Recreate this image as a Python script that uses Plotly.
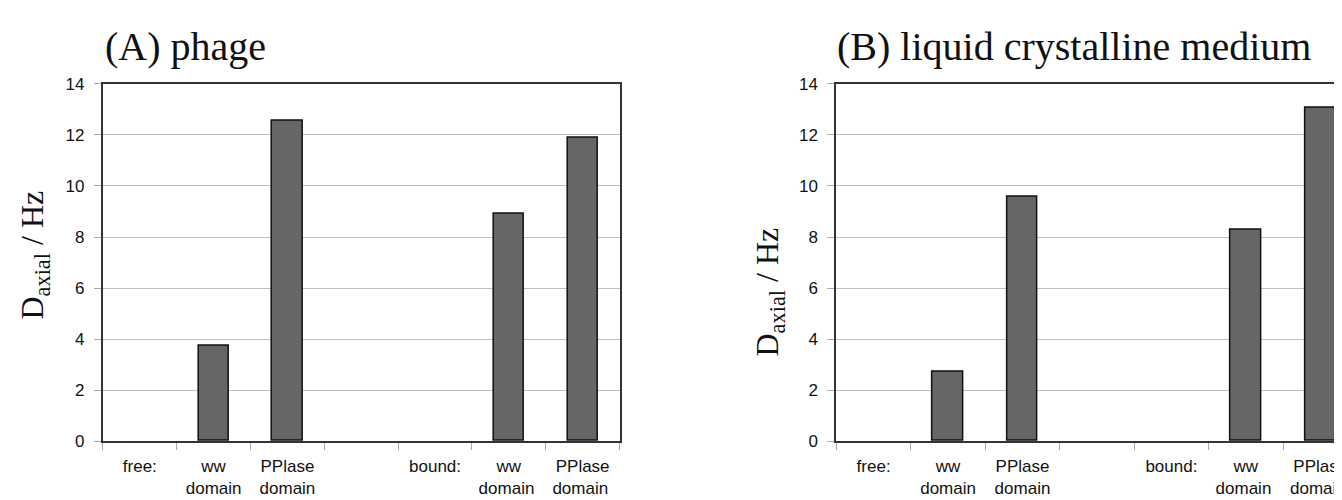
import plotly.graph_objects as go

# ---- data ----
categories = ["free:", "ww<br>domain", "PPlase<br>domain", "  ",
              "bound:", "ww<br>domain ", "PPlase<br>domain "]
phage_values = [None, 3.73, 12.57, None, None, 8.9, 11.9]
lcm_values = [None, 2.7, 9.58, None, None, 8.28, 13.05]
panel_titles = ["(A) phage", "(B) liquid crystalline medium"]
y_title = "D<sub>axial</sub> / Hz"
y_ticks = [0, 2, 4, 6, 8, 10, 12, 14]

W, H = 1342, 500

def px(x):
    return x / W

def py(y):
    return (H - y) / H

fig = go.Figure()

bar_style = dict(marker=dict(color="#666666", line=dict(color="#111111", width=1.5)),
                 width=0.41, showlegend=False, hoverinfo="skip")

fig.add_trace(go.Bar(x=categories, y=phage_values, xaxis="x", yaxis="y", **bar_style))
fig.add_trace(go.Bar(x=categories, y=lcm_values, xaxis="x2", yaxis="y2", **bar_style))

xtick_font = dict(family="Liberation Sans, Arial, sans-serif", size=17, color="#111111")
ytick_font = dict(family="Liberation Sans, Arial, sans-serif", size=17, color="#111111")

common_x = dict(type="category", categoryorder="array", categoryarray=categories,
                showline=True, linecolor="#333333", linewidth=2, mirror=True,
                ticks="outside", tickson="boundaries", ticklen=7, tickcolor="#aaaaaa",
                tickwidth=1, showgrid=False, zeroline=False, tickfont=xtick_font,
                ticklabelstandoff=8, fixedrange=True)
common_y = dict(range=[0, 14], tickmode="array", tickvals=y_ticks,
                showline=True, linecolor="#333333", linewidth=2,
                ticks="outside", ticklen=7, tickcolor="#aaaaaa", tickwidth=1,
                showgrid=True, gridcolor="#c0c0c0", gridwidth=1, zeroline=False,
                tickfont=ytick_font, ticklabelstandoff=6, fixedrange=True)

y_domain = [py(441), py(69.5)]

fig.update_layout(
    width=W, height=H,
    margin=dict(l=0, r=0, t=0, b=0),
    paper_bgcolor="white", plot_bgcolor="white",
    bargap=0,
    xaxis=dict(domain=[px(95), px(612)], range=[-0.5, 6.5], anchor="y", **common_x),
    yaxis=dict(domain=y_domain, anchor="x", mirror=True, **common_y),
    xaxis2=dict(domain=[px(829), 1.0], range=[-0.5, 6.386], anchor="y2", **common_x),
    yaxis2=dict(domain=y_domain, anchor="x2", mirror=False, **common_y),
)

title_font = dict(family="Liberation Serif, Times New Roman, serif", size=40, color="#111111")
label_font = dict(family="Liberation Serif, Times New Roman, serif", size=32, color="#111111")

annotations = [
    dict(text=panel_titles[0], x=px(95), y=py(31), xref="paper", yref="paper",
         xanchor="left", yanchor="middle", showarrow=False, font=title_font),
    dict(text=panel_titles[1], x=px(828), y=py(31), xref="paper", yref="paper",
         xanchor="left", yanchor="middle", showarrow=False, font=title_font),
    dict(text=y_title, x=px(27), y=py(247), xref="paper", yref="paper",
         xanchor="center", yanchor="middle", textangle=-90, showarrow=False, font=label_font),
    dict(text=y_title, x=px(762), y=py(286), xref="paper", yref="paper",
         xanchor="center", yanchor="middle", textangle=-90, showarrow=False, font=label_font),
]
fig.update_layout(annotations=annotations)

fig.write_html("out.html")
